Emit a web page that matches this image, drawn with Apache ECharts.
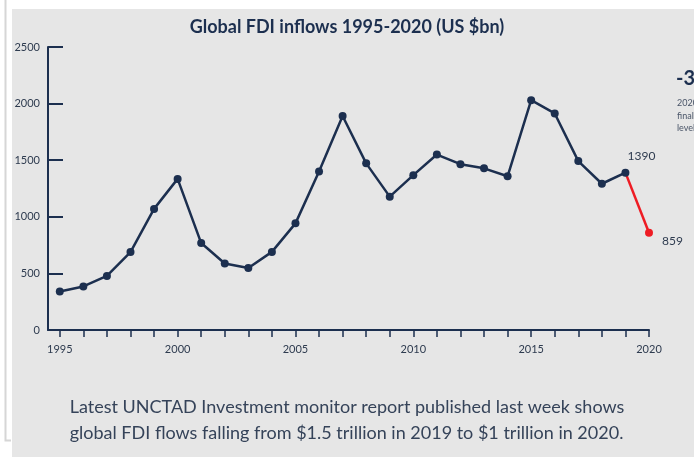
<!DOCTYPE html>
<html>
<head>
<meta charset="utf-8">
<script src="https://cdn.jsdelivr.net/npm/echarts@6/dist/echarts.min.js"></script>
<style>
  html, body { margin: 0; padding: 0; background: #fff; }
  #main { width: 694px; height: 457px; }
</style>
</head>
<body>
<div id="main"></div>
<script>
const years = [1995, 1996, 1997, 1998, 1999, 2000, 2001, 2002, 2003, 2004, 2005, 2006, 2007,
  2008, 2009, 2010, 2011, 2012, 2013, 2014, 2015, 2016, 2017, 2018, 2019];
const inflows = [340, 385, 478, 688, 1070, 1335, 768, 588, 548, 690, 942, 1400, 1890,
  1472, 1178, 1368, 1550, 1465, 1428, 1358, 2030, 1913, 1492, 1292, 1390];
const dropYears = [2019, 2020];
const dropValues = [1390, 859];
const yearLabels = [1995, 2000, 2005, 2010, 2015, 2020];
const tickYears = [1995, 1996, 1997, 1998, 1999, 2000, 2001, 2002, 2003, 2004, 2005, 2006, 2007,
  2008, 2009, 2010, 2011, 2012, 2013, 2014, 2015, 2016, 2017, 2018, 2019, 2020];

const navy = '#1c2f4f';
const textCol = '#2e3b4f';
const font = 'Lato';

const chart = echarts.init(document.getElementById('main'));

const option = {
  animation: false,
  textStyle: { fontFamily: font },
  title: {
    text: 'Global FDI inflows 1995-2020 (US $bn)',
    left: 'center',
    top: 13,
    textStyle: { fontFamily: font, fontSize: 18, fontWeight: 'bold', color: navy }
  },
  graphic: [
    { type: 'rect', z: -10, shape: { x: 12, y: 9, width: 700, height: 460 }, style: { fill: '#e6e6e6' } },
    { type: 'polyline', z: -10, shape: { points: [[5.5, 0], [5.5, 440.5], [11, 440.5]] },
      style: { stroke: '#d6d6d6', lineWidth: 2, fill: null } },
    { type: 'text', left: 676, top: 69, style: { text: '-35%', fontFamily: font, fontSize: 20, fontWeight: 'bold', fill: navy } },
    { type: 'text', left: 677, top: 97, style: { text: '2020 FDI\nfinally\nlevels', fontFamily: font, fontSize: 9, lineHeight: 12.5, fill: '#4a5568' } },
    { type: 'text', left: 'center', top: 394, style: {
        text: 'Latest UNCTAD Investment monitor report published last week shows\nglobal FDI flows falling from $1.5 trillion in 2019 to $1 trillion in 2020.',
        fontFamily: font, fontSize: 18, lineHeight: 26, align: 'center', fill: '#354359' } }
  ],
  grid: { left: 48, right: 45, top: 47, bottom: 127 },
  xAxis: {
    type: 'value',
    min: 1994.5,
    max: 2020,
    axisLine: { lineStyle: { color: navy, width: 2 } },
    axisTick: { show: true, length: 7, lineStyle: { color: navy, width: 1.5 }, customValues: tickYears },
    axisLabel: { customValues: yearLabels, formatter: v => String(v), color: textCol, fontSize: 11, margin: 14 },
    splitLine: { show: false }
  },
  yAxis: {
    type: 'value',
    min: 0,
    max: 2500,
    interval: 500,
    axisLine: { show: true, lineStyle: { color: navy, width: 2 } },
    axisTick: { show: true, inside: true, length: 15, lineStyle: { color: navy, width: 2 } },
    axisLabel: { formatter: v => String(v), color: textCol, fontSize: 11, margin: 8 },
    splitLine: { show: false }
  },
  series: [
    {
      type: 'line',
      data: dropYears.map((y, i) => ({
        value: [y, dropValues[i]],
        symbol: i === 0 ? 'none' : 'circle',
        label: i === 0 ? { show: false } : { show: true, position: 'right', offset: [4, 8], color: textCol, fontSize: 12 }
      })),
      symbolSize: 8,
      lineStyle: { color: '#ee1c24', width: 2.5 },
      itemStyle: { color: '#ee1c24' },
      z: 2
    },
    {
      type: 'line',
      data: years.map((y, i) => ({
        value: [y, inflows[i]],
        label: i === years.length - 1
          ? { show: true, position: 'top', offset: [16, -2], color: textCol, fontSize: 12 }
          : { show: false }
      })),
      symbol: 'circle',
      symbolSize: 8,
      lineStyle: { color: navy, width: 2.5 },
      itemStyle: { color: navy },
      z: 3
    }
  ]
};

chart.setOption(option);
window.addEventListener('resize', () => chart.resize());
</script>
</body>
</html>
